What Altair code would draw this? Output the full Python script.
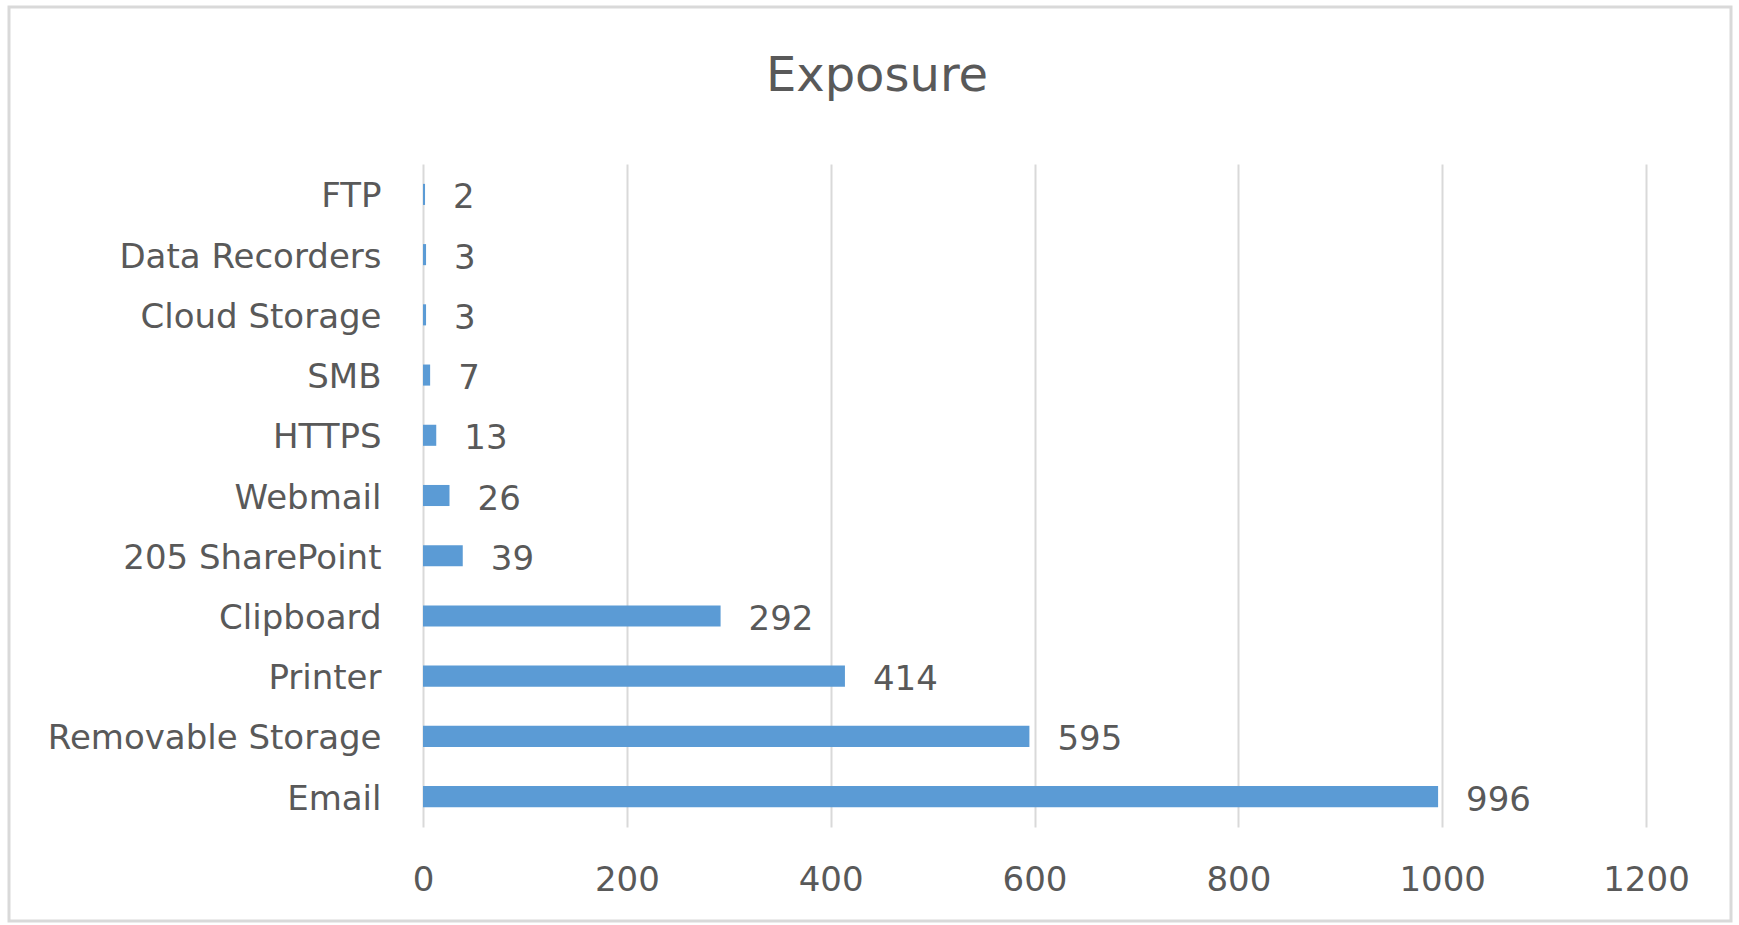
import altair as alt
import pandas as pd

# Exposure counts per channel
channels = ["FTP", "Data Recorders", "Cloud Storage", "SMB", "HTTPS", "Webmail",
            "205 SharePoint", "Clipboard", "Printer", "Removable Storage", "Email"]
counts = [2, 3, 3, 7, 13, 26, 39, 292, 414, 595, 996]
x_ticks = [0, 200, 400, 600, 800, 1000, 1200]

df = pd.DataFrame({"channel": channels, "count": counts})

FONT = "DejaVu Sans"
TEXT = "#595959"
GRID = "#d9d9d9"
BAR = "#5b9bd5"
FS = 34

W, H = 1223, 663
PAD_L, PAD_T, PAD_R, PAD_B = 423, 164, 93, 98

y_enc = alt.Y("channel:N", sort=channels, title=None,
              scale=alt.Scale(paddingInner=0.65, paddingOuter=0.33),
              axis=alt.Axis(labelFont=FONT, labelFontSize=FS, labelColor=TEXT,
                            labelPadding=42, labelLimit=0, labelOffset=3,
                            ticks=False, domain=False, grid=False))
x_enc = alt.X("count:Q", title=None,
              scale=alt.Scale(domain=[0, 1200], nice=False),
              axis=alt.Axis(values=x_ticks, format="d", labelFont=FONT,
                            labelFontSize=FS, labelColor=TEXT, labelPadding=36,
                            labelFlush=False, ticks=False, domain=False, grid=True,
                            gridColor=GRID, gridWidth=2))

bars = alt.Chart(df).mark_bar(color=BAR).encode(x=x_enc, y=y_enc)

labels = alt.Chart(df).mark_text(
    align="left", baseline="middle", dx=28, dy=4,
    font=FONT, fontSize=FS, color=TEXT
).encode(x="count:Q", y=alt.Y("channel:N", sort=channels), text="count:Q")

single = pd.DataFrame({"k": [0]})

# light outer frame around the whole figure
frame = alt.Chart(single).mark_rect(
    fill=None, stroke=GRID, strokeWidth=3
).encode(
    x=alt.value(9 - PAD_L), x2=alt.value(1731 - PAD_L),
    y=alt.value(7 - PAD_T), y2=alt.value(921 - PAD_T)
)

# chart heading, centred over the whole figure
heading = alt.Chart(single).mark_text(
    text="Exposure", font=FONT, fontSize=48, color=TEXT,
    align="center", baseline="alphabetic"
).encode(x=alt.value(877 - PAD_L), y=alt.value(91 - PAD_T))

chart = alt.layer(frame, bars, labels, heading).properties(
    width=W, height=H,
    padding={"left": PAD_L, "top": PAD_T, "right": PAD_R, "bottom": PAD_B},
    autosize=alt.AutoSizeParams(type="none"),
    background="white"
).configure_view(stroke=None)

chart.save("out.html", embed_options={"renderer": "svg", "actions": False})
